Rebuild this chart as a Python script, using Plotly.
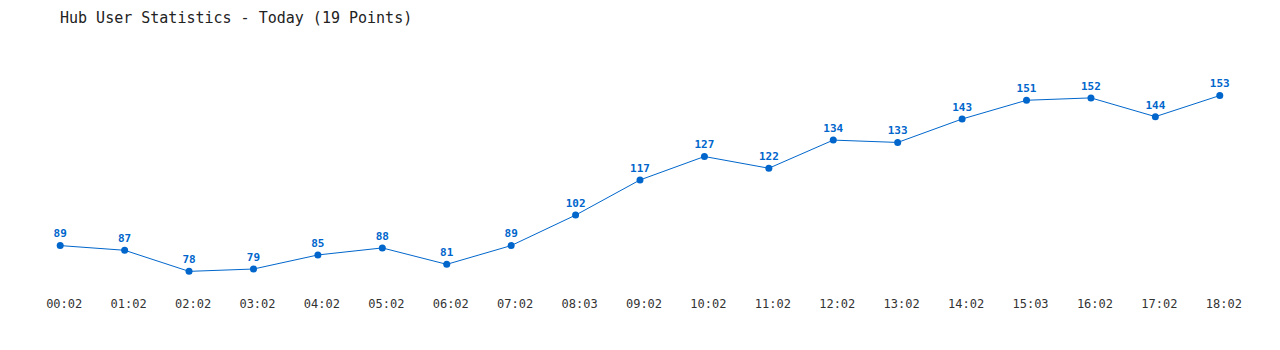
import plotly.graph_objects as go

times = ["00:02", "01:02", "02:02", "03:02", "04:02", "05:02", "06:02", "07:02", "08:03",
         "09:02", "10:02", "11:02", "12:02", "13:02", "14:02", "15:03", "16:02", "17:02", "18:02"]
users = [89, 87, 78, 79, 85, 88, 81, 89, 102, 117, 127, 122, 134, 133, 143, 151, 152, 144, 153]

blue = "#0066cc"
fig = go.Figure(go.Scatter(
    x=list(range(len(times))), y=users,
    mode="lines+markers+text",
    line=dict(color=blue, width=1),
    marker=dict(color=blue, size=7),
    text=[str(v) for v in users],
    textposition="top center",
    textfont=dict(family="DejaVu Sans Mono", size=11, color=blue, weight="bold"),
    cliponaxis=False,
    hoverinfo="skip",
))

fig.update_layout(
    width=1280, height=350,
    margin=dict(l=28, r=28, t=40, b=58),
    paper_bgcolor="white", plot_bgcolor="white",
    showlegend=False,
    title=dict(text="Hub User Statistics - Today (19 Points)", x=0, xref="paper", xanchor="left",
               y=1, yref="container", yanchor="top", pad=dict(t=12, l=32),
               font=dict(family="DejaVu Sans Mono", size=15, color="#222")),
    xaxis=dict(range=[-0.5, 18.5], tickmode="array", tickvals=list(range(len(times))), ticktext=times,
               showgrid=False, zeroline=False, showline=False, ticks="",
               ticklabelshift=4, ticklabelstandoff=3,
               tickfont=dict(family="DejaVu Sans Mono", size=12, color="#333")),
    yaxis=dict(range=[69.2, 176.7], visible=False, showgrid=False, zeroline=False),
)

fig.write_html("out.html")
